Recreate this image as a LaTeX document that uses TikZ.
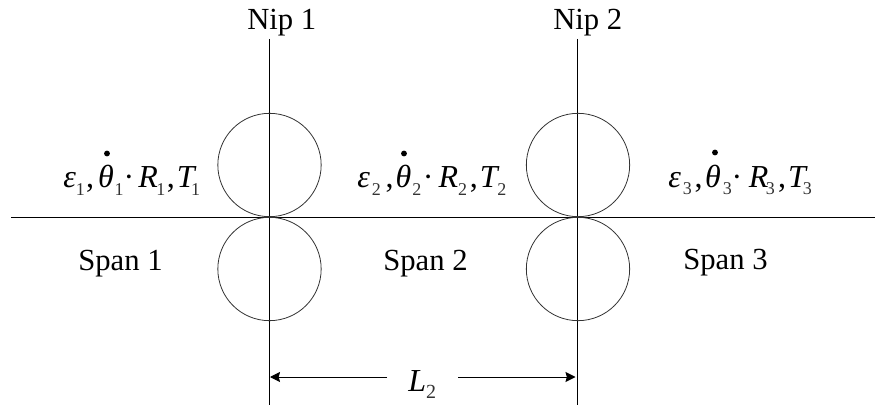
\documentclass[tikz,border=0pt]{standalone}
\usepackage{fontspec}
\setmainfont{Liberation Serif}
\usetikzlibrary{arrows.meta}
\tikzset{
  lbl/.style={inner sep=0pt,anchor=base west,font=\fontsize{23}{26}\selectfont,text=black},
  rate/.style={inner sep=0pt,anchor=base west,font=\fontsize{24}{26}\selectfont,text=black},
  roll/.style={draw=black!80,line width=0.6pt,circle,minimum size=77.5pt,inner sep=0pt},
  ln/.style={draw=black,line width=0.75pt},
  dim/.style={draw=black,line width=0.75pt,-{Stealth[length=7.5pt,width=7.5pt,inset=1pt]}},
  ratedot/.style={circle,fill=black,inner sep=0pt,minimum size=4.4pt}
}
\newcommand{\subs}[2][13.5]{\raisebox{-0.22em}{\fontsize{#1}{#1}\selectfont\color{black!80}#2}}
% digit, then the gaps between the pieces of the label, in pt
\newcommand{\ratetext}[9]{\textit{ε}\kern#2pt\subs{#1}\kern#3pt,\kern#4pt\textit{θ}\kern#5pt\subs{#1}\kern#6pt·\kern#7pt\textit{R}\kern#8pt\subs{#1}\ratetail{#1}{#9}}
\newcommand{\ratetail}[4]{\kern#3pt,\kern#4pt\textit{T}\kern#2pt\subs{#1}}
\begin{document}
\begin{tikzpicture}[x=0.75pt,y=-0.75pt]
\useasboundingbox (0,0) rectangle (875,406);
\coordinate (n1t) at (269.5,39);
\coordinate (n1b) at (269.5,405);
\coordinate (n2t) at (577.5,39);
\coordinate (n2b) at (577.5,405);
\coordinate (wl) at (11,217.5);
\coordinate (wr) at (875,217.5);
\draw[ln] (n1t)--(n1b);
\draw[ln] (n2t)--(n2b);
\draw[ln] (wl)--(wr);
\node[roll] (r1) at (269.5,165) {};
\node[roll] (r2) at (269.5,269) {};
\node[roll] (r3) at (578,165) {};
\node[roll] (r4) at (578,269) {};
\node[lbl] (nip1) at (247,30) {Nip 1};
\node[lbl] (nip2) at (553,30) {Nip 2};
\node[lbl] (s1) at (78,270) {Span 1};
\node[lbl] (s2) at (383,270) {Span 2};
\node[lbl] (s3) at (683,269.5) {Span 3};
\node[rate] (e1) at (63,188) {\ratetext{1}{0}{1}{3}{0.5}{0}{3}{-1}{-4}{1}{1.5}};
\node[rate] (e2) at (357,188) {\ratetext{2}{1.5}{3.5}{1.5}{0.75}{1.25}{3.75}{0}{-1.5}{2}{1.5}};
\node[rate] (e3) at (668,187.5) {\ratetext{3}{1.5}{2}{2}{1.5}{-0.25}{5}{-2}{-3.75}{2.5}{1.5}};
\node[ratedot] (d1) at (107,153.5) {};
\node[ratedot] (d2) at (404,153.5) {};
\node[ratedot] (d3) at (715,152.5) {};
\node[rate] (l2) at (408,391.5) {\textit{L}\subs[15]{2}};
\coordinate (al) at (270,377);
\coordinate (ar) at (575.5,377);
\coordinate (as) at (387,377);
\coordinate (bs) at (458,377);
\draw[dim] (as) -- (al);
\draw[dim] (bs) -- (ar);
\end{tikzpicture}
\end{document}
